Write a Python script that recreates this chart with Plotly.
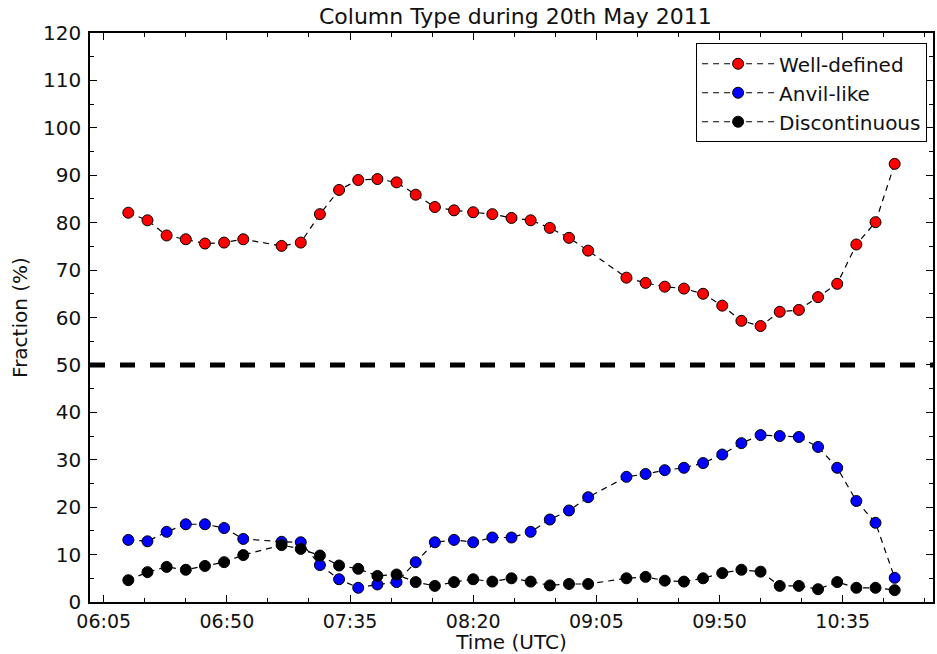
import plotly.graph_objects as go

times = ["06:14", "06:21", "06:28", "06:35", "06:42", "06:49", "06:56",
         "07:10", "07:17", "07:24", "07:31", "07:38", "07:45", "07:52", "07:59",
         "08:06", "08:13", "08:20", "08:27", "08:34", "08:41", "08:48", "08:55",
         "09:02", "09:16", "09:23", "09:30", "09:37", "09:44", "09:51", "09:58",
         "10:05", "10:12", "10:19", "10:26", "10:33", "10:40", "10:47", "10:54"]

well_defined = [82.1, 80.5, 77.3, 76.5, 75.6, 75.8, 76.5,
                75.1, 75.8, 81.8, 86.9, 89.0, 89.2, 88.5, 85.9,
                83.3, 82.6, 82.2, 81.8, 81.0, 80.5, 78.9, 76.8,
                74.1, 68.4, 67.3, 66.5, 66.1, 65.0, 62.5, 59.3,
                58.2, 61.2, 61.6, 64.3, 67.1, 75.4, 80.1, 92.4]

anvil_like = [13.1, 12.8, 14.8, 16.4, 16.4, 15.6, 13.3,
              12.7, 12.6, 7.8, 4.8, 3.0, 3.7, 4.2, 8.4,
              12.6, 13.1, 12.6, 13.6, 13.6, 14.8, 17.4, 19.3,
              22.1, 26.4, 27.0, 27.8, 28.3, 29.3, 31.1, 33.5,
              35.2, 35.0, 34.8, 32.7, 28.3, 21.3, 16.7, 5.1]

discontinuous = [4.6, 6.3, 7.4, 6.8, 7.6, 8.4, 9.9,
                 12.0, 11.2, 9.8, 7.7, 7.0, 5.5, 5.8, 4.2,
                 3.4, 4.2, 4.8, 4.3, 5.0, 4.3, 3.5, 3.8,
                 3.8, 5.0, 5.3, 4.5, 4.3, 5.0, 6.1, 6.8,
                 6.4, 3.4, 3.4, 2.7, 4.2, 3.0, 3.0, 2.5]

threshold = 50
date = "2011-05-20 "
x = [date + t for t in times]

series = [("Well-defined", well_defined, "#ff0000"),
          ("Anvil-like", anvil_like, "#0000ff"),
          ("Discontinuous", discontinuous, "#000000")]

fig = go.Figure()
for name, vals, col in series:
    fig.add_trace(go.Scatter(
        x=x, y=vals, name=name, mode="lines+markers",
        line=dict(color="black", width=1.2, dash="6px,5px"),
        marker=dict(color=col, size=11, line=dict(color="black", width=1)),
    ))

fig.add_shape(type="line", xref="paper", x0=0, x1=1, yref="y", y0=threshold, y1=threshold,
              line=dict(color="black", width=5, dash="dash"))

font = "DejaVu Sans"
fs = 20
fig.update_layout(
    width=937, height=654,
    margin=dict(l=90, r=2, t=33, b=52),
    paper_bgcolor="white", plot_bgcolor="white",
    font=dict(family=font, size=fs, color="#111111"),
    title=dict(text="Column Type during 20th May 2011", x=0.55, xanchor="center",
               y=0.975, yanchor="middle", font=dict(size=22)),
    showlegend=True,
    legend=dict(x=0.993, xanchor="right", y=0.982, yanchor="top",
                bordercolor="black", borderwidth=1, bgcolor="white",
                font=dict(size=fs), itemwidth=72, tracegroupgap=0),
)
fig.update_xaxes(
    type="date", range=[date + "06:00", date + "11:08"],
    tick0=date + "06:05", dtick=45 * 60 * 1000, tickformat="%H:%M",
    ticks="inside", ticklen=7, tickwidth=1, tickcolor="black",
    tickfont=dict(size=19), ticklabelstandoff=1,
    showline=True, linecolor="black", linewidth=1.5, mirror="ticks",
    showgrid=False, zeroline=False,
    minor=dict(ticks="inside", ticklen=4, dtick=15 * 60 * 1000, tick0=date + "06:05",
               tickcolor="black", showgrid=False),
    title=dict(text="Time (UTC)", standoff=4, font=dict(size=fs)),
)
fig.update_yaxes(
    range=[0, 120], dtick=10, tick0=0,
    ticks="inside", ticklen=7, tickwidth=1, tickcolor="black",
    tickfont=dict(size=fs), ticklabelstandoff=3,
    showline=True, linecolor="black", linewidth=1.5, mirror="ticks",
    showgrid=False, zeroline=False,
    minor=dict(ticks="inside", ticklen=4, dtick=5, tickcolor="black", showgrid=False),
    title=dict(text="Fraction (%)", standoff=10, font=dict(size=fs)),
)

fig.write_html("out.html")
